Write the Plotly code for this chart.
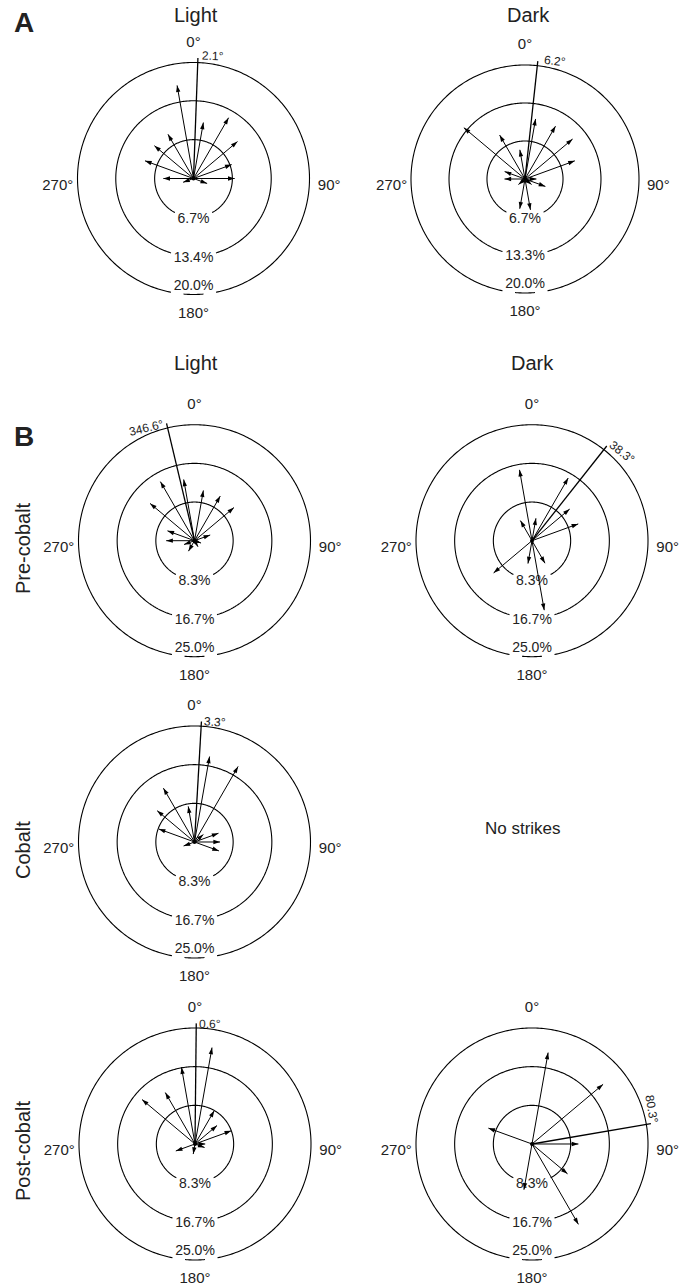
import math
import numpy as np
import plotly.graph_objects as go

W, H = 686, 1287

# ---------------- data ----------------
# A, Light
a_light_angles = [10, 30, 50, 70, 90, 110, 250, 270, 290, 310, 330, 350]
a_light_pct = [9.8, 12.1, 9.9, 7.0, 7.1, 2.5, 1.9, 5.2, 8.9, 8.8, 8.8, 16.3]
a_light_mean = 2.1
a_light_rings = [6.7, 13.4, 20.0]
a_light_ring_labels = ["6.7%", "13.4%", "20.0%"]

# A, Dark
a_dark_angles = [10, 30, 50, 70, 90, 110, 130, 170, 190, 230, 270, 290, 310, 330, 350]
a_dark_pct = [10.7, 10.7, 10.9, 9.3, 2.0, 3.8, 1.5, 5.5, 5.3, 1.5, 3.6, 3.8, 14.0, 8.9, 5.2]
a_dark_mean = 6.2
a_dark_rings = [6.67, 13.33, 20.0]
a_dark_ring_labels = ["6.7%", "13.3%", "20.0%"]

# B rings (shared)
b_rings = [8.33, 16.67, 25.0]
b_ring_labels = ["8.3%", "16.7%", "25.0%"]

# B, Pre-cobalt, Light
pre_light_angles = [10, 30, 50, 70, 110, 150, 210, 250, 270, 290, 310, 330, 350]
pre_light_pct = [11.0, 11.1, 11.1, 3.6, 1.5, 1.5, 2.6, 2.4, 6.1, 6.2, 12.5, 14.7, 13.4]
pre_light_mean = 346.6

# B, Pre-cobalt, Dark
pre_dark_angles = [10, 30, 50, 70, 150, 170, 190, 230, 330, 350]
pre_dark_pct = [4.9, 15.6, 10.6, 10.6, 5.6, 15.2, 5.0, 10.8, 5.0, 15.5]
pre_dark_mean = 38.3

# B, Cobalt, Light
cob_light_angles = [10, 30, 50, 70, 90, 110, 250, 290, 310, 330, 350]
cob_light_pct = [18.7, 18.8, 2.5, 5.5, 5.5, 5.6, 2.5, 8.2, 10.5, 13.4, 7.8]
cob_light_mean = 3.3

# B, Post-cobalt, Light
post_light_angles = [10, 30, 50, 70, 90, 110, 190, 250, 310, 330, 350]
post_light_pct = [21.1, 8.3, 6.2, 8.3, 2.2, 2.2, 2.2, 4.4, 14.9, 12.8, 16.8]
post_light_mean = 0.6

# B, Post-cobalt, Dark
post_dark_angles = [10, 50, 90, 130, 150, 190, 290]
post_dark_pct = [20.0, 20.0, 10.0, 10.0, 20.0, 10.0, 10.0]
post_dark_mean = 80.3

axis_tick_vals = [0, 90, 180, 270]
axis_tick_text = ["0°", "90°", "180°", "270°"]

# ---------------- layout / style ----------------
TXT = "#222222"
FONT = "Liberation Sans, Arial, Helvetica, sans-serif"
MEAN_EXT = 1.04     # mean-direction line reaches a little past the outer ring
K = 1.2             # radial range headroom around the outer ring
TICK_R = 1.17       # where the compass labels sit (fraction of outer ring)

# (angles, pct, mean, rings, ring labels, centre x px, centre y px, outer ring radius px, label offset px)
panels = [
    (a_light_angles, a_light_pct, a_light_mean, a_light_rings, a_light_ring_labels, 193.5, 178.5, 116, (15, -2)),
    (a_dark_angles, a_dark_pct, a_dark_mean, a_dark_rings, a_dark_ring_labels, 525, 179, 114, (17, 0)),
    (pre_light_angles, pre_light_pct, pre_light_mean, b_rings, b_ring_labels, 194.5, 540.7, 116, (-20, 5)),
    (pre_dark_angles, pre_dark_pct, pre_dark_mean, b_rings, b_ring_labels, 532, 540.7, 116, (15, 6)),
    (cob_light_angles, cob_light_pct, cob_light_mean, b_rings, b_ring_labels, 194.5, 842, 116, (14, 0)),
    (post_light_angles, post_light_pct, post_light_mean, b_rings, b_ring_labels, 195, 1144, 116, (14, 1)),
    (post_dark_angles, post_dark_pct, post_dark_mean, b_rings, b_ring_labels, 532, 1144, 116, (1, -15)),
]

fig = go.Figure()
annotations = []
layout_polars = {}

for i, (angs, pcts, mean_ang, rings, rlabels, cx, cy, R, loff) in enumerate(panels):
    sp = "polar" if i == 0 else f"polar{i+1}"
    rmax = rings[-1]
    Rd = R * K

    # rings drawn as arcs with a gap at the bottom for their labels
    ring_r, ring_t = [], []
    for v, lbl in zip(rings, rlabels):
        rpx = v / rmax * R
        half_w = 3.9 * len(lbl) + 3
        g = math.degrees(math.asin(min(1.0, half_w / rpx)))
        t = np.linspace(180 + g, 540 - g, 361)
        ring_t += list(t) + [None]
        ring_r += [v] * len(t) + [None]
        if v == rmax:
            f = math.degrees(math.asin(10.0 / rpx))
            t2 = np.linspace(180 - f, 180 + f, 15)
            ring_t += list(t2) + [None]
            ring_r += [v] * len(t2) + [None]
    fig.add_trace(go.Scatterpolar(r=ring_r, theta=ring_t, mode="lines",
                                  line=dict(color="black", width=1.1),
                                  subplot=sp, cliponaxis=False, hoverinfo="skip",
                                  showlegend=False))

    # ring labels (inner ones straddle the ring, outer one sits just inside)
    lab_r = []
    for v in rings:
        rpx = v / rmax * R
        lab_r.append(v * (1 + 2 / rpx) if v != rmax else v * (1 - 8 / rpx))
    fig.add_trace(go.Scatterpolar(r=lab_r, theta=[180] * len(rings), mode="text",
                                  text=rlabels, textposition="middle center",
                                  textfont=dict(size=14, color=TXT, family=FONT),
                                  subplot=sp, cliponaxis=False, hoverinfo="skip",
                                  showlegend=False))

    # compass labels
    fig.add_trace(go.Scatterpolar(r=[rmax * TICK_R] * 4, theta=axis_tick_vals, mode="text",
                                  text=axis_tick_text,
                                  textposition=["middle center", "bottom center",
                                                "middle center", "bottom center"],
                                  textfont=dict(size=15, color=TXT, family=FONT),
                                  subplot=sp, cliponaxis=False, hoverinfo="skip",
                                  showlegend=False))

    # arrow shafts
    sr, st = [], []
    for a, p in zip(angs, pcts):
        sr += [0, p, None]
        st += [a, a, None]
    fig.add_trace(go.Scatterpolar(r=sr, theta=st, mode="lines",
                                  line=dict(color="black", width=1),
                                  subplot=sp, cliponaxis=False, hoverinfo="skip",
                                  showlegend=False))
    # arrow heads
    fig.add_trace(go.Scatterpolar(r=pcts, theta=angs, mode="markers",
                                  marker=dict(symbol="arrow", size=7, color="black",
                                              angle=angs, angleref="up",
                                              line=dict(width=0)),
                                  subplot=sp, cliponaxis=False, hoverinfo="skip",
                                  showlegend=False))
    # mean direction line
    fig.add_trace(go.Scatterpolar(r=[0, rmax * MEAN_EXT], theta=[mean_ang, mean_ang],
                                  mode="lines", line=dict(color="black", width=1.3),
                                  subplot=sp, cliponaxis=False, hoverinfo="skip",
                                  showlegend=False))
    # centre dot
    fig.add_trace(go.Scatterpolar(r=[0], theta=[0], mode="markers",
                                  marker=dict(size=4, color="black"),
                                  subplot=sp, cliponaxis=False, hoverinfo="skip",
                                  showlegend=False))

    layout_polars[sp] = dict(
        domain=dict(x=[(cx - Rd) / W, (cx + Rd) / W],
                    y=[1 - (cy + Rd) / H, 1 - (cy - Rd) / H]),
        bgcolor="rgba(0,0,0,0)",
        radialaxis=dict(visible=False, range=[0, rmax * K]),
        angularaxis=dict(direction="clockwise", rotation=90,
                         showgrid=False, showline=False, showticklabels=False,
                         ticks=""),
    )

    # mean angle label, rotated along the line direction
    rad = math.radians(mean_ang)
    tip_px = (cx + MEAN_EXT * R * math.sin(rad), cy - MEAN_EXT * R * math.cos(rad))
    lx, ly = tip_px[0] + loff[0], tip_px[1] + loff[1]
    tang = mean_ang if mean_ang <= 180 else mean_ang - 360
    annotations.append(dict(text=f"{mean_ang:.1f}°", x=lx / W, y=1 - ly / H,
                            xref="paper", yref="paper", showarrow=False,
                            xanchor="center", yanchor="middle", textangle=tang,
                            font=dict(size=12, color=TXT, family=FONT)))

# titles and labels
def ann(text, x, y, size, bold=False, angle=0):
    t = f"<b>{text}</b>" if bold else text
    annotations.append(dict(text=t, x=x / W, y=1 - y / H, xref="paper", yref="paper",
                            showarrow=False, xanchor="center", yanchor="middle",
                            textangle=angle,
                            font=dict(size=size, color=TXT, family=FONT)))

ann("A", 24, 23, 28, bold=True)
ann("B", 24, 437, 28, bold=True)
ann("Light", 196, 15, 20)
ann("Dark", 528, 15, 20)
ann("Light", 196, 363, 20)
ann("Dark", 532, 363, 20)
ann("Pre-cobalt", 23, 548, 20, angle=-90)
ann("Cobalt", 23, 850, 20, angle=-90)
ann("Post-cobalt", 23, 1151, 20, angle=-90)
ann("No strikes", 523, 828, 17)

fig.update_layout(width=W, height=H, margin=dict(l=0, r=0, t=0, b=0),
                  paper_bgcolor="white", plot_bgcolor="white",
                  showlegend=False, annotations=annotations, **layout_polars)

fig.write_html("out.html")
